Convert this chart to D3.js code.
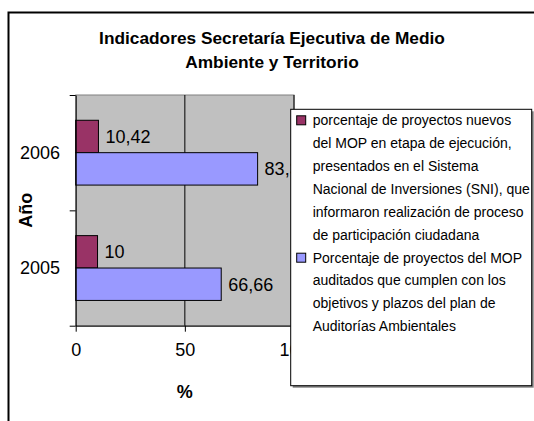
<!DOCTYPE html>
<html>
<head>
<meta charset="utf-8">
<script src="https://cdn.jsdelivr.net/npm/d3@7"></script>
<style>
  body { margin: 0; background: #fff; }
  svg { display: block; font-family: Arial, "Liberation Sans", sans-serif; }
</style>
</head>
<body>
<svg id="view" width="534" height="421"></svg>
<script>
// data
const years = ['2006', '2005'];
const seriesNames = ['participacion', 'auditados'];
const participacion = [10.42, 10];
const auditados = [83.33, 66.66];
const labelsParticipacion = ['10,42', '10'];
const labelsAuditados = ['83,33', '66,66'];
const xTicks = [0, 50, 100];
const titleLines = ['Indicadores Secretaría Ejecutiva de Medio', 'Ambiente y Territorio'];
const legendParticipacion = [
    'porcentaje de proyectos nuevos',
    'del MOP en etapa de ejecución,',
    'presentados en el Sistema',
    'Nacional de Inversiones (SNI), que',
    'informaron realización de proceso',
    'de participación ciudadana'
];
const legendAuditados = [
    'Porcentaje de proyectos del MOP',
    'auditados que cumplen con los',
    'objetivos y plazos del plan de',
    'Auditorías Ambientales'
];
const colors = ['#993366', '#9999ff'];

var view = d3.select('#view');
const M = {left: 75.7, top: 95, right: 294, bottom: 325.7};

// outer chart frame (runs off the picture on the right and bottom)
view.append('rect')
    .attr('x', 8.5).attr('y', 12.5)
    .attr('width', 600).attr('height', 500)
    .attr('fill', 'none').attr('stroke', '#000').attr('stroke-width', 2);

view.selectAll('text.title').data(titleLines).enter().append('text')
    .attr('class', 'title')
    .attr('x', 272).attr('y', (d, i) => 44 + i * 23.5)
    .attr('text-anchor', 'middle')
    .attr('font-size', '17.3px').attr('font-weight', 'bold')
    .text(d => d);

var x = d3.scaleLinear().domain([0, 100]).range([M.left, M.right]);
var y = d3.scaleBand().domain(years).range([M.top, M.bottom]);
var sub = d3.scaleBand().domain(seriesNames).range([0, y.bandwidth()]).paddingOuter(0.78);

// plot area
view.append('rect')
    .attr('x', M.left).attr('y', M.top)
    .attr('width', M.right - M.left).attr('height', M.bottom - M.top)
    .attr('fill', '#c0c0c0').attr('stroke', '#808080');

view.selectAll('line.grid').data(xTicks.slice(1)).enter().append('line')
    .attr('class', 'grid')
    .attr('x1', d => x(d)).attr('x2', d => x(d))
    .attr('y1', M.top).attr('y2', M.bottom)
    .attr('stroke', '#000');

var rows = years.map((yr, i) => ({
    year: yr,
    vals: [
        {s: 'participacion', v: participacion[i], label: labelsParticipacion[i], c: colors[0]},
        {s: 'auditados', v: auditados[i], label: labelsAuditados[i], c: colors[1]}
    ]
}));

var g = view.selectAll('g.row').data(rows).enter().append('g')
    .attr('class', 'row')
    .attr('transform', d => 'translate(0,' + y(d.year) + ')');
g.selectAll('rect').data(d => d.vals).enter().append('rect')
    .attr('x', x(0)).attr('y', d => sub(d.s))
    .attr('width', d => x(d.v) - x(0)).attr('height', sub.bandwidth())
    .attr('fill', d => d.c).attr('stroke', '#000');
g.selectAll('text').data(d => d.vals).enter().append('text')
    .attr('x', d => x(d.v) + 7).attr('y', d => sub(d.s) + sub.bandwidth() / 2)
    .attr('dy', '0.35em')
    .attr('font-size', '18px')
    .text(d => d.label);

// axes
var xAxis = view.append('g')
    .attr('transform', 'translate(0,' + M.bottom + ')')
    .call(d3.axisBottom(x).tickValues(xTicks).tickSize(6).tickPadding(12).tickSizeOuter(0));
xAxis.selectAll('text').attr('font-size', '18px').attr('fill', '#000')
    .attr('font-family', 'Arial, "Liberation Sans", sans-serif');

var yTickScale = d3.scaleLinear().domain([0, years.length]).range([M.top, M.bottom]);
view.append('g')
    .attr('transform', 'translate(' + M.left + ',0)')
    .call(d3.axisLeft(yTickScale).ticks(years.length).tickFormat('').tickSize(6).tickSizeOuter(0));
view.selectAll('text.ylab').data(years).enter().append('text')
    .attr('class', 'ylab')
    .attr('x', 60).attr('y', d => y(d) + y.bandwidth() / 2)
    .attr('dy', '0.35em').attr('text-anchor', 'end')
    .attr('font-size', '18px')
    .text(d => d);
view.selectAll('.domain, .tick line').attr('stroke', '#000');

view.append('text')
    .attr('transform', 'translate(26,' + (M.top + M.bottom) / 2 + ') rotate(-90)')
    .attr('dy', '0.35em')
    .attr('text-anchor', 'middle')
    .attr('font-size', '18px').attr('font-weight', 'bold')
    .text('Año');
view.append('text')
    .attr('x', x(50)).attr('y', 398)
    .attr('text-anchor', 'middle')
    .attr('font-size', '18px').attr('font-weight', 'bold')
    .text('%');

// legend
var lg = view.append('g').attr('transform', 'translate(290.7,109.3)');
lg.append('rect')
    .attr('x', 2).attr('y', 2).attr('width', 241).attr('height', 276.4)
    .attr('fill', '#808080');
lg.append('rect')
    .attr('width', 241).attr('height', 276.4)
    .attr('fill', '#fff').attr('stroke', '#000');
const LH = 22.9;
var entries = [legendParticipacion, legendAuditados];
var startLine = 0;
entries.forEach(function(lines, k) {
    var top = 11 + startLine * LH;
    lg.append('rect')
        .attr('x', 6).attr('y', top - 4.5).attr('width', 9).attr('height', 9)
        .attr('fill', colors[k]).attr('stroke', '#000');
    lg.selectAll('text.l' + k).data(lines).enter().append('text')
        .attr('class', 'l' + k)
        .attr('x', 22).attr('y', (d, i) => top + i * LH)
        .attr('dy', '0.35em')
        .attr('font-size', '14px')
        .text(d => d);
    startLine += lines.length;
});
</script>
</body>
</html>
